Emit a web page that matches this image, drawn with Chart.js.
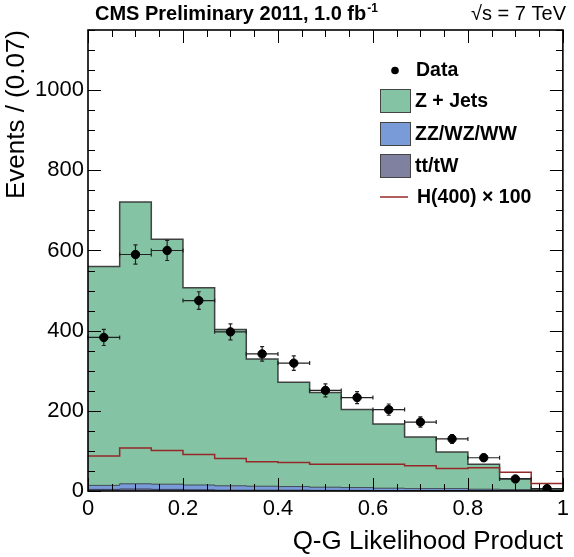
<!DOCTYPE html>
<html><head><meta charset="utf-8">
<script src="https://cdn.jsdelivr.net/npm/chart.js@4.4.1/dist/chart.umd.min.js"></script>
<style>html,body{margin:0;padding:0;background:#fff;}#wrap{width:574px;height:557px;}</style>
</head><body><div id="wrap"><canvas id="c" width="574" height="557"></canvas></div>
<script>
// ---- data ----
const binEdges = [0,0.0667,0.1333,0.2,0.2667,0.3333,0.4,0.4667,0.5333,0.6,0.6667,0.7333,0.8,0.8667,0.9333,1];
const zJets     = [546,703,611,492,390,317,260,236,195,160,129,91,62,27,4];
const diboson   = [10,13,13,12,11,10,9,8,7,6,5,5,4,3,1];
const ttbar     = [4,5,4,3,2,2,2,1.5,1.5,1,1,1,0.5,0.5,0.2];
const higgsX100 = [87,107,101,91,81,73,71,67,67,67,63,56,58,47,19];
const dataCounts = [383,590,600,475,397,342,319,251,233,203,172,130,83,30,6];
const dataErrors = [20,24,25,22,20,18,18,16,15,14,13,11,9,5.5,2.5];
const xTickValues = [0,0.2,0.4,0.6,0.8,1];
const xTickLabels = ['0','0.2','0.4','0.6','0.8','1'];
const yTickValues = [0,200,400,600,800,1000];
const yTickLabels = ['0','200','400','600','800','1000'];

const FONT = "'Liberation Sans', Arial, Helvetica, sans-serif";
const GREEN = 'rgb(132,195,163)';
const BLUE = 'rgb(121,156,216)';
const PURPLE = 'rgb(128,128,160)';
const HRED = 'rgb(150,40,40)';

function cum(...arrs){ return arrs[0].map((_,i)=>arrs.reduce((s,a)=>s+a[i],0)); }
function stepPts(vals){
  const pts = vals.map((v,i)=>({x:binEdges[i], y:v}));
  pts.push({x:binEdges[binEdges.length-1], y:vals[vals.length-1]});
  return pts;
}
const ttTop = ttbar;
const vvTop = cum(ttbar, diboson);
const zTop = cum(ttbar, diboson, zJets);
const centers = dataCounts.map((_,i)=>(binEdges[i]+binEdges[i+1])/2);

const DATA_IDX = 4;
const errorBars = {
  id:'errorBars',
  beforeDatasetDraw(chart,args){
    if(args.index!==DATA_IDX) return;
    const {ctx, scales:{x,y}} = chart;
    ctx.save(); ctx.strokeStyle='#222'; ctx.lineWidth=1.2;
    dataCounts.forEach((v,i)=>{
      const cx=x.getPixelForValue(centers[i]), cy=y.getPixelForValue(v);
      const x0=x.getPixelForValue(binEdges[i]), x1=x.getPixelForValue(binEdges[i+1]);
      const y0=y.getPixelForValue(v-dataErrors[i]), y1=y.getPixelForValue(v+dataErrors[i]);
      ctx.beginPath();
      ctx.moveTo(x0,cy); ctx.lineTo(x1,cy);
      ctx.moveTo(x0,cy-2); ctx.lineTo(x0,cy+2);
      ctx.moveTo(x1,cy-2); ctx.lineTo(x1,cy+2);
      ctx.moveTo(cx,y0); ctx.lineTo(cx,y1);
      ctx.moveTo(cx-2,y0); ctx.lineTo(cx+2,y0);
      ctx.moveTo(cx-2,y1); ctx.lineTo(cx+2,y1);
      ctx.stroke();
    });
    ctx.restore();
  }
};

const frameTicks = {
  id:'frameTicks',
  afterDatasetsDraw(chart){
    const {ctx, chartArea:a, scales:{x,y}} = chart;
    ctx.save();
    ctx.strokeStyle='#000'; ctx.lineWidth=1;
    ctx.beginPath();
    for(let k=0;k<=20;k++){
      const v=k*0.05; const px=Math.round(x.getPixelForValue(v))+0.5;
      const len = (k%4===0)?13:7;
      ctx.moveTo(px,a.bottom); ctx.lineTo(px,a.bottom-len);
      ctx.moveTo(px,a.top); ctx.lineTo(px,a.top+len);
    }
    for(let v=0; v<=1150; v+=50){
      const py=Math.round(y.getPixelForValue(v))+0.5;
      const len=(v%200===0)?13:7;
      ctx.moveTo(a.left,py); ctx.lineTo(a.left+len,py);
      ctx.moveTo(a.right,py); ctx.lineTo(a.right-len,py);
    }
    ctx.stroke();
    ctx.lineWidth=1.6;
    ctx.strokeRect(a.left,a.top,a.right-a.left,a.bottom-a.top);
    ctx.restore();
  },
  afterDraw(chart){
    const {ctx} = chart;
    ctx.save();
    ctx.fillStyle='#000'; ctx.textBaseline='alphabetic';
    // header
    ctx.font='bold 20px '+FONT; ctx.textAlign='left';
    const t='CMS Preliminary 2011, 1.0 fb';
    ctx.fillText(t,95,20);
    const w=ctx.measureText(t).width;
    ctx.font='bold 12px '+FONT; ctx.fillText('-1',95+w+1,12);
    ctx.font='20px '+FONT; ctx.textAlign='right';
    ctx.fillText('\u221As = 7 TeV',566,20);
    // legend
    ctx.textAlign='left'; ctx.textBaseline='middle'; ctx.font='bold 19.5px '+FONT;
    ctx.beginPath(); ctx.arc(395,70.5,3.8,0,Math.PI*2); ctx.fill();
    ctx.fillText('Data',416,71);
    const boxes=[[GREEN,'Z + Jets',89],[BLUE,'ZZ/WZ/WW',122],[PURPLE,'tt/tW',154]];
    boxes.forEach(([c,l,yy])=>{
      ctx.fillStyle=c; ctx.fillRect(380,yy,30,23);
      ctx.strokeStyle='#444'; ctx.lineWidth=1; ctx.strokeRect(380.5,yy+0.5,30,23);
      ctx.fillStyle='#000'; ctx.fillText(l,415,yy+12.5);
    });
    ctx.strokeStyle=HRED; ctx.lineWidth=1.5;
    ctx.beginPath(); ctx.moveTo(380,197); ctx.lineTo(408,197); ctx.stroke();
    ctx.fillText('H(400) \u00D7 100',417,198);
    ctx.restore();
  }
};

const stepDs = (label,vals,bg,border,bw,order)=>({
  type:'line', label, data:stepPts(vals), stepped:'before',
  fill: bg?'origin':false, backgroundColor:bg||'transparent',
  borderColor:border, borderWidth:bw, pointRadius:0, order
});

new Chart(document.getElementById('c'),{
  type:'line',
  data:{datasets:[
    stepDs('Z + Jets', zTop, GREEN, 'rgba(50,50,50,0.9)', 1.5, 4),
    stepDs('ZZ/WZ/WW', vvTop, BLUE, 'rgba(50,50,60,0.8)', 1, 3),
    stepDs('tt/tW', ttTop, PURPLE, 'rgba(40,40,60,0.8)', 1, 2),
    stepDs('H(400) x 100', higgsX100, null, HRED, 1.5, 1),
    {type:'line', label:'Data', data:dataCounts.map((v,i)=>({x:centers[i],y:v})),
     showLine:false, pointRadius:4.2, pointBackgroundColor:'#000', pointBorderColor:'#000', order:0}
  ]},
  options:{
    responsive:false, animation:false, devicePixelRatio:1,
    layout:{padding:{top:30,right:8,left:0,bottom:0}},
    plugins:{legend:{display:false}, tooltip:{enabled:false}},
    scales:{
      x:{type:'linear', min:0, max:1,
        afterBuildTicks(s){ s.ticks = xTickValues.map(v=>({value:v})); },
        afterFit(s){ s.height=66; },
        ticks:{callback:(v)=>xTickLabels[xTickValues.indexOf(v)], font:{family:FONT,size:22}, color:'#000', padding:5, maxRotation:0, autoSkip:false},
        grid:{display:false, drawTicks:false}, border:{display:false},
        title:{display:true, text:'Q-G Likelihood Product', align:'end', color:'#000', font:{family:FONT,size:26}, padding:{top:0,bottom:0}}
      },
      y:{type:'linear', min:0, max:1150,
        afterBuildTicks(s){ s.ticks = yTickValues.map(v=>({value:v})); },
        afterFit(s){ s.width=88; },
        ticks:{callback:(v)=>yTickLabels[yTickValues.indexOf(v)], font:{family:FONT,size:22}, color:'#000', padding:4, autoSkip:false},
        grid:{display:false, drawTicks:false}, border:{display:false},
        title:{display:true, text:'Events / (0.07)', align:'end', color:'#000', font:{family:FONT,size:26}, padding:{top:1,bottom:0}}
      }
    }
  },
  plugins:[errorBars, frameTicks]
});
</script></body></html>
